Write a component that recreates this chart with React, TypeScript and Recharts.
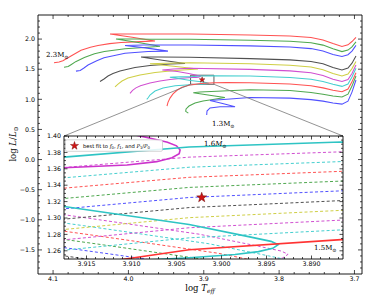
import React from 'react';
import { ComposedChart, Line, Scatter, XAxis, YAxis, ReferenceArea, ReferenceLine } from 'recharts';

type Pair = [number, number];

// ---------------- Evolutionary tracks: [log Teff, log L/Lsun] ----------------
const TRACK_A_RED: Pair[] = [[4.0988,1.608],[4.0920,1.618],[4.0870,1.640],[4.0829,1.670],[4.0762,1.720],[4.0629,1.815],[4.0504,1.865],[4.0404,1.895],[4.0250,1.925],[4.0098,1.942],[3.9833,1.958],[3.9647,1.968],[3.9950,2.030],[4.0244,2.084],[4.0100,2.086],[3.9714,2.085],[3.9183,2.083],[3.8386,2.068],[3.7856,2.050],[3.7577,2.025],[3.7418,1.985],[3.7285,1.925],[3.7166,1.876],[3.7086,1.905],[3.7033,1.960],[3.6980,2.030]];
const TRACK_B_GREEN: Pair[] = [[4.0855,1.532],[4.0800,1.545],[4.0762,1.575],[4.0700,1.625],[4.0585,1.695],[4.0450,1.755],[4.0320,1.795],[4.0045,1.840],[3.9740,1.865],[3.9581,1.882],[3.9870,1.945],[4.0165,2.000],[3.9900,2.000],[3.9714,1.998],[3.9183,1.997],[3.8386,1.982],[3.7856,1.964],[3.7577,1.939],[3.7418,1.900],[3.7285,1.840],[3.7166,1.792],[3.7086,1.818],[3.7033,1.870],[3.6980,1.955]];
const TRACK_C_BLUE: Pair[] = [[4.0696,1.468],[4.0640,1.480],[4.0590,1.520],[4.0536,1.570],[4.0420,1.640],[4.0324,1.690],[4.0045,1.765],[3.9740,1.795],[3.9475,1.800],[3.9750,1.850],[4.0045,1.895],[3.9800,1.902],[3.9183,1.902],[3.8386,1.887],[3.7856,1.868],[3.7577,1.842],[3.7418,1.802],[3.7285,1.745],[3.7166,1.712],[3.7086,1.740],[3.7033,1.800],[3.6980,1.895]];
const TRACK_D_BLACK: Pair[] = [[4.0377,1.296],[4.0324,1.337],[4.0271,1.387],[4.0205,1.429],[4.0112,1.470],[3.9913,1.528],[3.9714,1.562],[3.9448,1.586],[3.9249,1.595],[3.9550,1.650],[3.9833,1.703],[3.9600,1.702],[3.9183,1.698],[3.8386,1.676],[3.7856,1.655],[3.7577,1.628],[3.7418,1.590],[3.7285,1.530],[3.7166,1.487],[3.7086,1.520],[3.7033,1.600],[3.6980,1.720]];
const TRACK_E_YELLOW: Pair[] = [[4.0178,1.205],[4.0138,1.254],[4.0085,1.304],[4.0006,1.354],[3.9846,1.404],[3.9647,1.445],[3.9382,1.479],[3.9077,1.503],[3.9400,1.550],[3.9714,1.590],[3.9500,1.600],[3.9183,1.608],[3.8386,1.590],[3.7856,1.567],[3.7577,1.537],[3.7418,1.492],[3.7285,1.430],[3.7166,1.387],[3.7086,1.420],[3.7033,1.510],[3.6980,1.630]];
const TRACK_F_MAGENTA: Pair[] = [[3.9979,1.100],[3.9945,1.150],[3.9900,1.190],[3.9840,1.225],[3.9714,1.270],[3.9581,1.305],[3.9448,1.328],[3.9316,1.346],[3.9175,1.3613],[3.9105,1.3646],[3.9072,1.3687],[3.9055,1.3735],[3.9047,1.3785],[3.9046,1.3830],[3.9050,1.3880],[3.9060,1.3925],[3.9079,1.3972],[3.9095,1.4010],[3.9200,1.428],[3.9350,1.462],[3.9550,1.487],[3.9400,1.503],[3.9183,1.515],[3.8386,1.497],[3.7856,1.472],[3.7577,1.441],[3.7418,1.395],[3.7285,1.335],[3.7166,1.295],[3.7086,1.330],[3.7033,1.430],[3.6980,1.570]];
const TRACK_G_CYAN: Pair[] = [[3.9757,1.000],[3.9735,1.030],[3.9714,1.072],[3.9647,1.138],[3.9540,1.188],[3.9380,1.225],[3.9183,1.243],[3.9036,1.2515],[3.8985,1.2555],[3.8959,1.2590],[3.8943,1.2630],[3.8937,1.2675],[3.8945,1.2715],[3.8970,1.2773],[3.9036,1.2920],[3.9175,1.3140],[3.9300,1.336],[3.9400,1.357],[3.9450,1.368],[3.9400,1.372],[3.9300,1.373],[3.9175,1.3742],[3.9036,1.3865],[3.8867,1.3926],[3.8386,1.387],[3.7856,1.362],[3.7577,1.332],[3.7418,1.295],[3.7285,1.250],[3.7166,1.215],[3.7086,1.255],[3.7033,1.370],[3.6980,1.515]];
const TRACK_H_RED: Pair[] = [[3.9488,0.889],[3.9475,0.950],[3.9448,1.020],[3.9408,1.090],[3.9355,1.150],[3.9289,1.200],[3.9183,1.238],[3.9105,1.2503],[3.9036,1.2613],[3.8867,1.2736],[3.8700,1.279],[3.8386,1.276],[3.7856,1.255],[3.7577,1.225],[3.7418,1.190],[3.7285,1.150],[3.7166,1.127],[3.7086,1.170],[3.7033,1.290],[3.6980,1.442]];
const TRACK_I_GREEN: Pair[] = [[3.9205,0.770],[3.9240,0.800],[3.9235,0.840],[3.9196,0.889],[3.9116,0.939],[3.9010,0.972],[3.8878,0.997],[3.8720,1.030],[3.8900,1.065],[3.9139,1.110],[3.9050,1.122],[3.8828,1.135],[3.8386,1.160],[3.7856,1.145],[3.7577,1.115],[3.7418,1.085],[3.7285,1.055],[3.7166,1.040],[3.7086,1.085],[3.7033,1.220],[3.6980,1.387]];
const TRACK_J_BLUE: Pair[] = [[3.8961,0.740],[3.8957,0.806],[3.8917,0.856],[3.8785,0.878],[3.8585,0.878],[3.8750,0.930],[3.8917,0.980],[3.8652,1.005],[3.8386,1.030],[3.7856,1.020],[3.7577,0.995],[3.7418,0.970],[3.7285,0.940],[3.7166,0.920],[3.7086,0.970],[3.7033,1.120],[3.6980,1.321]];

// ---------------- Interpolated tracks inside the zoom (1.51 ... 1.59 Msun) ----------------
const DASH_159: Pair[] = [[3.9025,1.2398],[3.8974,1.2438],[3.8948,1.2473],[3.8932,1.2513],[3.8926,1.2558],[3.8934,1.2598],[3.8959,1.2656],[3.9025,1.2803],[3.9164,1.3023],[3.9289,1.3213],[3.9200,1.3593],[3.9175,1.3616],[3.9036,1.3742],[3.8867,1.3807],[3.8840,1.3819]];
const DASH_158: Pair[] = [[3.9014,1.2281],[3.8963,1.2321],[3.8937,1.2356],[3.8921,1.2396],[3.8915,1.2441],[3.8923,1.2481],[3.8948,1.2539],[3.9014,1.2686],[3.9153,1.2906],[3.9278,1.3096],[3.9200,1.3466],[3.9175,1.3490],[3.9036,1.3619],[3.8867,1.3688],[3.8840,1.3700]];
const DASH_157: Pair[] = [[3.8904,1.2324],[3.8912,1.2364],[3.8937,1.2422],[3.9003,1.2569],[3.9142,1.2789],[3.9267,1.2979],[3.9200,1.3339],[3.9175,1.3364],[3.9036,1.3496],[3.8867,1.3569],[3.8840,1.3581]];
const DASH_156: Pair[] = [[3.8901,1.2247],[3.8926,1.2305],[3.8992,1.2452],[3.9131,1.2672],[3.9256,1.2862],[3.9200,1.3212],[3.9175,1.3238],[3.9036,1.3373],[3.8867,1.3450],[3.8840,1.3462]];
const DASH_155: Pair[] = [[3.8915,1.2188],[3.8981,1.2335],[3.9120,1.2555],[3.9245,1.2745],[3.9200,1.3085],[3.9175,1.3112],[3.9036,1.3250],[3.8867,1.3331],[3.8840,1.3343]];
const DASH_154: Pair[] = [[3.8970,1.2218],[3.9109,1.2438],[3.9234,1.2628],[3.9200,1.2958],[3.9175,1.2986],[3.9036,1.3127],[3.8867,1.3212],[3.8840,1.3224]];
const DASH_153: Pair[] = [[3.9098,1.2321],[3.9223,1.2511],[3.9200,1.2831],[3.9175,1.2860],[3.9036,1.3004],[3.8867,1.3093],[3.8840,1.3105]];
const DASH_152: Pair[] = [[3.9200,1.2704],[3.9175,1.2734],[3.9036,1.2881],[3.8867,1.2974],[3.8840,1.2986]];
const DASH_151: Pair[] = [[3.9200,1.2577],[3.9175,1.2608],[3.9036,1.2758],[3.8867,1.2855],[3.8840,1.2867]];

const BEST_FIT: Pair[] = [[3.9022, 1.325]];

// ---------------- Axes ----------------
const MAIN_X_DOMAIN: [number, number] = [3.69, 4.12];
const MAIN_Y_DOMAIN: [number, number] = [-1.9, 2.4];
const MAIN_X_MAJOR = [4.1, 4.0, 3.9, 3.8, 3.7];
const MAIN_X_LABELS = ['4.1', '4.0', '3.9', '3.8', '3.7'];
const MAIN_Y_MAJOR = [-1.5, -1.0, -0.5, 0.0, 0.5, 1.0, 1.5, 2.0];
const MAIN_Y_LABELS = ['\u22121.5', '\u22121.0', '\u22120.5', '0.0', '0.5', '1.0', '1.5', '2.0'];

const INSET_X_DOMAIN: [number, number] = [3.8865, 3.9175];
const INSET_Y_DOMAIN: [number, number] = [1.25, 1.40];
const INSET_X_MAJOR = [3.915, 3.910, 3.905, 3.900, 3.895, 3.890];
const INSET_X_LABELS = ['3.915', '3.910', '3.905', '3.900', '3.895', '3.890'];
const INSET_Y_MAJOR = [1.26, 1.28, 1.30, 1.32, 1.34, 1.36, 1.38, 1.40];
const INSET_Y_LABELS = ['1.26', '1.28', '1.30', '1.32', '1.34', '1.36', '1.38', '1.40'];

const steps = (a: number, b: number, s: number, dec: number) => {
  const out: number[] = [];
  const n = Math.round((b - a) / s);
  for (let i = 0; i <= n; i++) out.push(+(a + i * s).toFixed(dec));
  return out;
};
const MAIN_X_TICKS = steps(3.70, 4.10, 0.02, 3);
const MAIN_Y_TICKS = steps(-1.8, 2.3, 0.1, 2);
const INSET_X_TICKS = steps(3.887, 3.917, 0.001, 4);
const INSET_Y_TICKS = steps(1.255, 1.40, 0.005, 4);

// ---------------- Layout ----------------
const W = 381, H = 305;
const MAIN = { left: 38, top: 15, right: 362, bottom: 274 };
const INSET = { left: 64, top: 136, right: 343, bottom: 259 };
const AX = 1; // thickness reserved by each axis

const COL = { r: '#ff5252', g: '#4fa84f', b: '#5050ff', k: '#505050', y: '#cfcf45', m: '#d14fd1', c: '#45cfcf' };

const MAIN_TRACKS = [
  { id: 'A', pts: TRACK_A_RED, color: COL.r },
  { id: 'B', pts: TRACK_B_GREEN, color: COL.g },
  { id: 'C', pts: TRACK_C_BLUE, color: COL.b },
  { id: 'D', pts: TRACK_D_BLACK, color: COL.k },
  { id: 'E', pts: TRACK_E_YELLOW, color: COL.y },
  { id: 'F', pts: TRACK_F_MAGENTA, color: COL.m },
  { id: 'G', pts: TRACK_G_CYAN, color: COL.c },
  { id: 'H', pts: TRACK_H_RED, color: COL.r },
  { id: 'I', pts: TRACK_I_GREEN, color: COL.g },
  { id: 'J', pts: TRACK_J_BLUE, color: COL.b },
];

const DASHED = [
  { id: 'd159', pts: DASH_159, color: COL.m },
  { id: 'd158', pts: DASH_158, color: COL.c },
  { id: 'd157', pts: DASH_157, color: COL.r },
  { id: 'd156', pts: DASH_156, color: COL.g },
  { id: 'd155', pts: DASH_155, color: COL.b },
  { id: 'd154', pts: DASH_154, color: COL.k },
  { id: 'd153', pts: DASH_153, color: COL.y },
  { id: 'd152', pts: DASH_152, color: COL.m },
  { id: 'd151', pts: DASH_151, color: COL.c },
];

const SOLID_INSET = [
  { id: 's17', pts: TRACK_F_MAGENTA, color: '#cc33cc' },
  { id: 's16', pts: TRACK_G_CYAN, color: '#2ec4c4' },
  { id: 's15', pts: TRACK_H_RED, color: '#ff3333' },
];

const toXY = (p: Pair[]) => p.map(([x, y]) => ({ x, y }));

function starPath(cx: number, cy: number, R: number) {
  const r = R * 0.4;
  let d = '';
  for (let i = 0; i < 10; i++) {
    const a = -Math.PI / 2 + (i * Math.PI) / 5;
    const rad = i % 2 === 0 ? R : r;
    d += (i ? 'L' : 'M') + (cx + rad * Math.cos(a)).toFixed(2) + ',' + (cy + rad * Math.sin(a)).toFixed(2);
  }
  return d + 'Z';
}

type Side = 'bottom' | 'top' | 'left' | 'right';
function tickFactory(side: Side, majors: number[], labels: string[] | null, majorLen: number, minorLen: number, fontSize: number, gap: number) {
  return (props: any) => {
    const { x, y, payload } = props;
    const v = payload.value as number;
    const mi = majors.findIndex((m) => Math.abs(m - v) < 1e-7);
    const len = mi >= 0 ? majorLen : minorLen;
    let x2 = x, y2 = y;
    if (side === 'bottom') y2 = y - len;
    else if (side === 'top') y2 = y + len;
    else if (side === 'left') x2 = x + len;
    else x2 = x - len;
    let label: React.ReactNode = null;
    if (mi >= 0 && labels) {
      if (side === 'bottom')
        label = <text x={x} y={y + gap + fontSize * 0.75} textAnchor="middle" fontSize={fontSize} fontFamily="DejaVu Sans" fill="#000">{labels[mi]}</text>;
      else if (side === 'left')
        label = <text x={x - gap} y={y + fontSize * 0.36} textAnchor="end" fontSize={fontSize} fontFamily="DejaVu Sans" fill="#000">{labels[mi]}</text>;
    }
    return (
      <g>
        <line x1={x} y1={y} x2={x2} y2={y2} stroke="#000" strokeWidth={0.7} />
        {label}
      </g>
    );
  };
}

const axisLine = { stroke: '#000', strokeWidth: 0.9 };

function MainChart() {
  const sx = (px: number) => MAIN_X_DOMAIN[1] - ((px - MAIN.left) / (MAIN.right - MAIN.left)) * (MAIN_X_DOMAIN[1] - MAIN_X_DOMAIN[0]);
  const sy = (py: number) => MAIN_Y_DOMAIN[1] - ((py - MAIN.top) / (MAIN.bottom - MAIN.top)) * (MAIN_Y_DOMAIN[1] - MAIN_Y_DOMAIN[0]);
  const insetTop = sy(INSET.top);
  return (
    <ComposedChart width={W} height={H} margin={{ top: MAIN.top - AX, left: MAIN.left - AX, right: W - MAIN.right - AX, bottom: H - MAIN.bottom - AX }}>
      <XAxis xAxisId="b" type="number" dataKey="x" domain={MAIN_X_DOMAIN} reversed allowDataOverflow ticks={MAIN_X_TICKS} interval={0} height={AX} tickSize={0} tickMargin={0} tickLine={false} axisLine={axisLine} tick={tickFactory('bottom', MAIN_X_MAJOR, MAIN_X_LABELS, 4, 2, 6.3, 2.5)} />
      <XAxis xAxisId="t" orientation="top" type="number" dataKey="x" domain={MAIN_X_DOMAIN} reversed allowDataOverflow ticks={MAIN_X_TICKS} interval={0} height={AX} tickSize={0} tickMargin={0} tickLine={false} axisLine={axisLine} tick={tickFactory('top', MAIN_X_MAJOR, null, 4, 2, 6.3, 2.5)} />
      <YAxis yAxisId="l" type="number" dataKey="y" domain={MAIN_Y_DOMAIN} allowDataOverflow ticks={MAIN_Y_TICKS} interval={0} width={AX} tickSize={0} tickMargin={0} tickLine={false} axisLine={axisLine} tick={tickFactory('left', MAIN_Y_MAJOR, MAIN_Y_LABELS, 4, 2, 6.3, 3)} />
      <YAxis yAxisId="r" orientation="right" type="number" dataKey="y" domain={MAIN_Y_DOMAIN} allowDataOverflow ticks={MAIN_Y_TICKS} interval={0} width={AX} tickSize={0} tickMargin={0} tickLine={false} axisLine={axisLine} tick={tickFactory('right', MAIN_Y_MAJOR, null, 4, 2, 6.3, 3)} />
      {MAIN_TRACKS.map((t) => (
        <Line key={t.id} xAxisId="b" yAxisId="l" data={toXY(t.pts)} dataKey="y" type="linear" stroke={t.color} strokeWidth={1.05} dot={false} activeDot={false} isAnimationActive={false} />
      ))}
      <ReferenceArea xAxisId="b" yAxisId="l" x1={INSET_X_DOMAIN[1]} x2={INSET_X_DOMAIN[0]} y1={INSET_Y_DOMAIN[0]} y2={INSET_Y_DOMAIN[1]} fill="none" stroke="#333" strokeWidth={0.8} />
      <ReferenceLine xAxisId="b" yAxisId="l" segment={[{ x: INSET_X_DOMAIN[1], y: INSET_Y_DOMAIN[0] }, { x: sx(INSET.left), y: insetTop }]} stroke="#777" strokeWidth={0.8} />
      <ReferenceLine xAxisId="b" yAxisId="l" segment={[{ x: INSET_X_DOMAIN[0], y: INSET_Y_DOMAIN[0] }, { x: sx(INSET.right), y: insetTop }]} stroke="#777" strokeWidth={0.8} />
      <Scatter xAxisId="b" yAxisId="l" data={toXY(BEST_FIT)} dataKey="y" isAnimationActive={false}
        shape={(p: any) => <path d={starPath(p.cx, p.cy, 3)} fill="#d01515" stroke="#6a0000" strokeWidth={0.4} />} />
    </ComposedChart>
  );
}

function InsetChart() {
  const m = { left: 30, top: 6, right: 8, bottom: 18 };
  const w = INSET.right - INSET.left + m.left + m.right;
  const h = INSET.bottom - INSET.top + m.top + m.bottom;
  return (
    <div style={{ position: 'absolute', left: INSET.left - m.left, top: INSET.top - m.top }}>
      <ComposedChart width={w} height={h} margin={{ left: m.left - AX, top: m.top - AX, right: m.right - AX, bottom: m.bottom - AX }}>
        <XAxis xAxisId="b" type="number" dataKey="x" domain={INSET_X_DOMAIN} reversed allowDataOverflow ticks={INSET_X_TICKS} interval={0} height={AX} tickSize={0} tickMargin={0} tickLine={false} axisLine={axisLine} tick={tickFactory('bottom', INSET_X_MAJOR, INSET_X_LABELS, 3.5, 2, 6.3, 2.5)} />
        <XAxis xAxisId="t" orientation="top" type="number" dataKey="x" domain={INSET_X_DOMAIN} reversed allowDataOverflow ticks={INSET_X_TICKS} interval={0} height={AX} tickSize={0} tickMargin={0} tickLine={false} axisLine={axisLine} tick={tickFactory('top', INSET_X_MAJOR, null, 3.5, 2, 6.3, 2.5)} />
        <YAxis yAxisId="l" type="number" dataKey="y" domain={INSET_Y_DOMAIN} allowDataOverflow ticks={INSET_Y_TICKS} interval={0} width={AX} tickSize={0} tickMargin={0} tickLine={false} axisLine={axisLine} tick={tickFactory('left', INSET_Y_MAJOR, INSET_Y_LABELS, 3.5, 2, 6.3, 3)} />
        <YAxis yAxisId="r" orientation="right" type="number" dataKey="y" domain={INSET_Y_DOMAIN} allowDataOverflow ticks={INSET_Y_TICKS} interval={0} width={AX} tickSize={0} tickMargin={0} tickLine={false} axisLine={axisLine} tick={tickFactory('right', INSET_Y_MAJOR, null, 3.5, 2, 6.3, 3)} />
        {DASHED.map((t) => (
          <Line key={t.id} xAxisId="b" yAxisId="l" data={toXY(t.pts)} dataKey="y" type="linear" stroke={t.color} strokeWidth={1.0} strokeDasharray="3 2.2" dot={false} activeDot={false} isAnimationActive={false} />
        ))}
        {SOLID_INSET.map((t) => (
          <Line key={t.id} xAxisId="b" yAxisId="l" data={toXY(t.pts)} dataKey="y" type="linear" stroke={t.color} strokeWidth={1.6} dot={false} activeDot={false} isAnimationActive={false} />
        ))}
        <Scatter xAxisId="b" yAxisId="l" data={toXY(BEST_FIT)} dataKey="y" isAnimationActive={false}
          shape={(p: any) => <path d={starPath(p.cx, p.cy, 5.2)} fill="#d01515" stroke="#6a0000" strokeWidth={0.5} />} />
      </ComposedChart>
    </div>
  );
}

function Overlay() {
  const serif = 'DejaVu Serif';
  return (
    <svg width={W} height={H} style={{ position: 'absolute', left: 0, top: 0, pointerEvents: 'none' }}>
      <text x={16} y={144} transform="rotate(-90 16 144)" textAnchor="middle" fontFamily={serif} fontSize={8.5} fill="#000">
        log <tspan fontStyle="italic">L</tspan>/<tspan fontStyle="italic">L</tspan><tspan fontSize={6} dy={2}>⊙</tspan>
      </text>
      <text x={200} y={291} textAnchor="middle" fontFamily={serif} fontSize={8.5} fill="#000">
        log <tspan fontStyle="italic">T</tspan><tspan fontStyle="italic" fontSize={6} dy={2}>eff</tspan>
      </text>
      <text x={46} y={57} fontFamily={serif} fontSize={7} fill="#000">2.3M<tspan fontSize={5} dy={1.5}>⊙</tspan></text>
      <text x={212} y={126} fontFamily={serif} fontSize={7} fill="#000">1.3M<tspan fontSize={5} dy={1.5}>⊙</tspan></text>
      <text x={204} y={146} fontFamily={serif} fontSize={7} fill="#000">1.6<tspan fontStyle="italic">M</tspan><tspan fontSize={5} dy={1.5}>⊙</tspan></text>
      <text x={314} y={250} fontFamily={serif} fontSize={7} fill="#000">1.5M<tspan fontSize={5} dy={1.5}>⊙</tspan></text>
      <rect x={65.5} y={139.8} width={97} height={11.5} rx={1.5} fill="#fff" fillOpacity={0.85} stroke="#bbb" strokeWidth={0.6} />
      <path d={starPath(74.5, 145.8, 4.3)} fill="#d01515" stroke="#6a0000" strokeWidth={0.4} />
      <text x={83} y={148} fontFamily="DejaVu Sans" fontSize={5.2} fill="#000">
        best fit to <tspan fontStyle="italic" fontFamily={serif}>f</tspan><tspan fontSize={3.8} dy={1}>0</tspan><tspan dy={-1}>, </tspan><tspan fontStyle="italic" fontFamily={serif}>f</tspan><tspan fontSize={3.8} dy={1}>1</tspan><tspan dy={-1}>, and </tspan><tspan fontStyle="italic" fontFamily={serif}>P</tspan><tspan fontSize={3.8} dy={1}>1</tspan><tspan dy={-1}>/</tspan><tspan fontStyle="italic" fontFamily={serif}>P</tspan><tspan fontSize={3.8} dy={1}>0</tspan>
      </text>
    </svg>
  );
}

export default function App() {
  return (
    <div style={{ position: 'absolute', left: 0, top: 0, width: W, height: H, background: '#fff', overflow: 'hidden' }}>
      <div style={{ position: 'absolute', left: 0, top: 0 }}>
        <MainChart />
      </div>
      <div style={{ position: 'absolute', left: INSET.left, top: INSET.top, width: INSET.right - INSET.left, height: INSET.bottom - INSET.top, background: '#fff' }} />
      <InsetChart />
      <Overlay />
    </div>
  );
}
